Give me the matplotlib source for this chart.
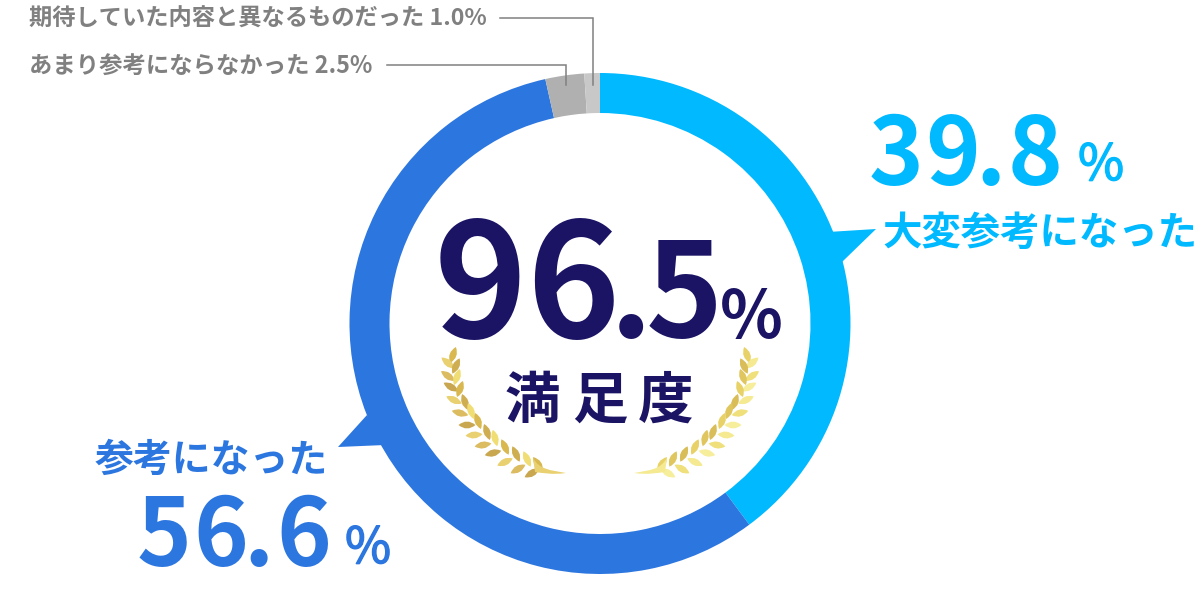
import numpy as np
import matplotlib
matplotlib.use("Agg")
import matplotlib.pyplot as plt
import matplotlib.patheffects as pe
from matplotlib.patches import Polygon, PathPatch
from matplotlib.path import Path

plt.rcParams['font.family'] = ['Noto Sans CJK JP', 'DejaVu Sans']

# clockwise from 12 o'clock
shares = [39.8, 56.6, 2.5, 1.0]
share_colors = ['#00b9ff', '#2c76e0', '#b0b0b0', '#c8c8c8']

NAVY = '#1b1464'
CYAN = '#00b9ff'
BLUE = '#2c76e0'
GREY = '#808080'

# laurel leaves of the left branch: x, y, tilt in reference pixels
wreath_x = [453, 448, 456, 448, 457, 451, 460, 454, 465, 460, 471, 467, 478, 474, 487, 483, 495, 493, 505, 505, 516, 518, 527, 532, 538]
wreath_y = [355, 363, 366, 376, 377, 387, 389, 400, 402, 413, 411, 425, 421, 435, 432, 445, 438, 453, 447, 462, 454, 469, 459, 473, 464]
wreath_tilt = [70, 140, 65, 145, 70, 150, 70, 155, 110, 165, 110, 180, 110, 5, 110, 10, 105, 15, 115, 25, 115, 30, 115, 30, 125]
wreath_gold = ['#d8b84f', '#e9d070', '#cfae52', '#dcbc60', '#f0de74', '#c9a650']
wreath_gold_right = ['#e8d267', '#f5ea92', '#d9bd58', '#f0e07c', '#e0c65e', '#f7ee9c']


def px(y):
    return 600 - y


def spaced_text(ax, x, y, chars, gaps, **kw):
    # place glyphs one by one, the reference tracking is uneven
    for ch, gap in zip(chars, gaps):
        ax.text(x, px(y), ch, ha='left', va='baseline', **kw)
        x += gap


def leaf_patch(x, y, tilt, color, length=17, width=7):
    a = np.radians(tilt)
    ux, uy = np.cos(a), np.sin(a)
    vx, vy = -uy, ux
    h = length / 2
    w = width
    pts = [(-h, 0), (0, w), (h, 0), (0, -w), (-h, 0)]
    verts = [(x + p * ux + q * vx, y + p * uy + q * vy) for p, q in pts]
    codes = [Path.MOVETO, Path.CURVE3, Path.CURVE3, Path.CURVE3, Path.CURVE3]
    return PathPatch(Path(verts, codes), fc=color, lw=0, zorder=3)


def draw_wreath(ax, mirror, colors):
    sx = (lambda v: 1200 - v) if mirror else (lambda v: v)
    for i, (x, y, t) in enumerate(zip(wreath_x, wreath_y, wreath_tilt)):
        angle = 180 - t if mirror else t
        ax.add_patch(leaf_patch(sx(x), px(y), angle, colors[i % len(colors)]))
    verts = [(533, 458), (540, 470), (550, 470), (566, 473),
             (552, 475), (543, 473), (535, 472), (533, 458)]
    codes = [Path.MOVETO, Path.CURVE4, Path.CURVE4, Path.CURVE4,
             Path.CURVE4, Path.CURVE4, Path.CURVE4, Path.CLOSEPOLY]
    stem = Path([(sx(a), px(b)) for a, b in verts], codes)
    ax.add_patch(PathPatch(stem, fc=colors[1], lw=0, zorder=3))


fig = plt.figure(figsize=(12, 6), dpi=100)
ax = fig.add_axes([0, 0, 1, 1])

ax.pie(shares, colors=share_colors, startangle=90, counterclock=False,
       center=(600, px(323.5)), radius=250.5, frame=True,
       wedgeprops=dict(width=40, linewidth=0))
ax.set_xlim(0, 1200)
ax.set_ylim(0, 600)
ax.axis('off')

# speech bubble tails
ax.add_patch(Polygon([(828, px(232)), (876, px(229)), (842, px(262))], color=CYAN, lw=0))
ax.add_patch(Polygon([(338, px(447)), (367, px(415)), (385, px(445))], color=BLUE, lw=0))

# leader lines
ax.plot([500, 593, 593], [px(18), px(18), px(85)], color=GREY, lw=1.1, solid_joinstyle='miter')
ax.plot([387, 566, 566], [px(65), px(65), px(85)], color=GREY, lw=1.1, solid_joinstyle='miter')

ax.text(29, px(26), '期待していた内容と異なるものだった 1.0%', fontsize=16.75, color=GREY,
        fontweight='bold', ha='left', va='baseline')
ax.text(29, px(73), 'あまり参考にならなかった 2.5%', fontsize=16.8, color=GREY,
        fontweight='bold', ha='left', va='baseline')

spaced_text(ax, 434, 338, '96', [92, 0], fontsize=114, color=NAVY, fontweight='bold')
spaced_text(ax, 610, 337, '.5', [36, 0], fontsize=94, color=NAVY, fontweight='bold')
ax.text(720, px(338), '%', fontsize=47, color=NAVY, fontweight='bold', ha='left', va='baseline')
spaced_text(ax, 505, 418, '満足度', [67, 66, 0], fontsize=40, color=NAVY, fontweight='bold')

draw_wreath(ax, False, wreath_gold)
draw_wreath(ax, True, wreath_gold_right)

pct_edge = lambda c: [pe.withStroke(linewidth=1.0, foreground=c)]
spaced_text(ax, 869, 185, '39.8', [56, 50, 33, 0], fontsize=67, color=CYAN, fontweight='bold')
ax.text(1078, px(180), '%', fontsize=36, color=CYAN, ha='left', va='baseline', path_effects=pct_edge(CYAN))
ax.text(882, px(245), '大変参考になった', fontsize=28.4, color=CYAN, fontweight='bold', ha='left', va='baseline')

ax.text(95, px(472), '参考になった', fontsize=28, color=BLUE, fontweight='bold', ha='left', va='baseline')
spaced_text(ax, 137, 566, '56.6', [56, 50, 33, 0], fontsize=67, color=BLUE, fontweight='bold')
ax.text(345, px(563), '%', fontsize=36, color=BLUE, ha='left', va='baseline', path_effects=pct_edge(BLUE))

fig.savefig('out.png', dpi=100)
